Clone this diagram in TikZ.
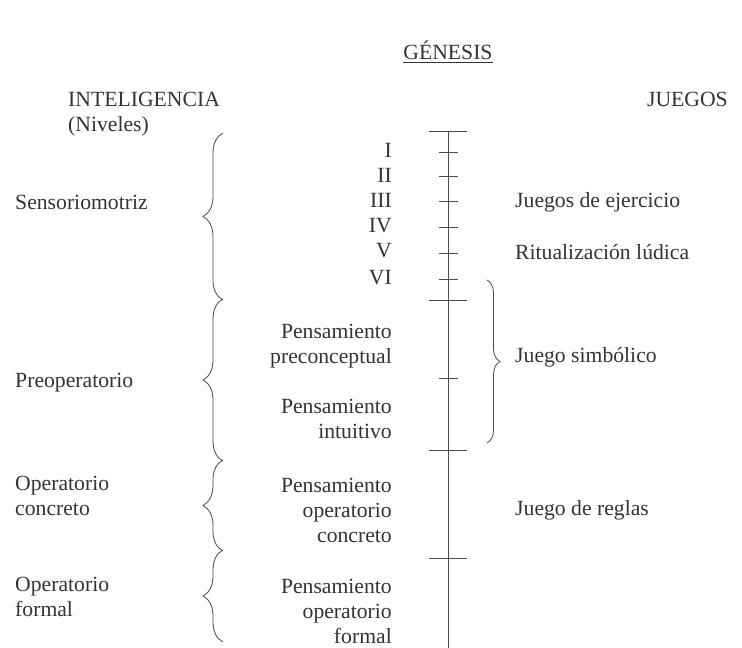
\documentclass[tikz,border=0pt]{standalone}
\usepackage{fontspec}
\setmainfont{Liberation Serif}
\usetikzlibrary{decorations.pathreplacing}

\begin{document}
\begin{tikzpicture}[x=0.03cm,y=-0.03cm,
  every node/.style={inner sep=0pt,text=black!80,font=\fontsize{18.5}{21.3}\selectfont},
  axisline/.style={black!70,line width=0.7pt},
  lbrace/.style={axisline,decorate,decoration={brace,amplitude=0.6cm}},
  rbrace/.style={axisline,decorate,decoration={brace,amplitude=0.39cm}}]
\useasboundingbox (0,0) rectangle (742,648);
% headings
\node[anchor=base] (genesis) at (448,60) {\underline{GÉNESIS}};
\node[anchor=base west] (intel) at (68,107) {INTELIGENCIA};
\node[anchor=base west] (niveles) at (68,132) {(Niveles)};
\node[anchor=base east] (juegos) at (728,107) {JUEGOS};
% time axis
\draw[axisline] (448,131) -- (448,648);
\foreach \y in {131,300,450,558}
  \draw[axisline] (429,\y) -- (467,\y);
\foreach \y in {152,176,201,227,253,279,378}
  \draw[axisline] (439,\y) -- (458,\y);
% levels I--VI
\foreach \r/\y in {I/158,II/183,III/208,IV/233,V/258,VI/285}
  \node[anchor=base east] (lvl\r) at (392,\y) {\r};
% thought stages
\node[anchor=east,align=right] (precon) at (392,346) {Pensamiento\\preconceptual};
\node[anchor=east,align=right] (intuit) at (392,419) {Pensamiento\\intuitivo};
\node[anchor=east,align=right] (opcon) at (392,510) {Pensamiento\\operatorio\\concreto};
\node[anchor=east,align=right] (opform) at (392,611) {Pensamiento\\operatorio\\formal};
% intelligence
\node[anchor=base west] (senso) at (15,210) {Sensoriomotriz};
\node[anchor=base west] (preop) at (15,388) {Preoperatorio};
\node[anchor=west,align=left] (opconc) at (15,496) {Operatorio\\concreto};
\node[anchor=west,align=left] (opfor) at (15,597) {Operatorio\\formal};
% games
\node[anchor=base west] (ejerc) at (515,208) {Juegos de ejercicio};
\node[anchor=base west] (ritual) at (515,260) {Ritualización lúdica};
\node[anchor=base west] (simbol) at (515,363) {Juego simbólico};
\node[anchor=base west] (reglas) at (515,515) {Juego de reglas};
% braces
\draw[lbrace] (223,300) -- (223,133);
\draw[lbrace] (223,461) -- (223,299);
\draw[lbrace] (223,551) -- (223,460);
\draw[lbrace] (223,642) -- (223,550);
\draw[rbrace] (487,280) -- (487,443);
\end{tikzpicture}
\end{document}
